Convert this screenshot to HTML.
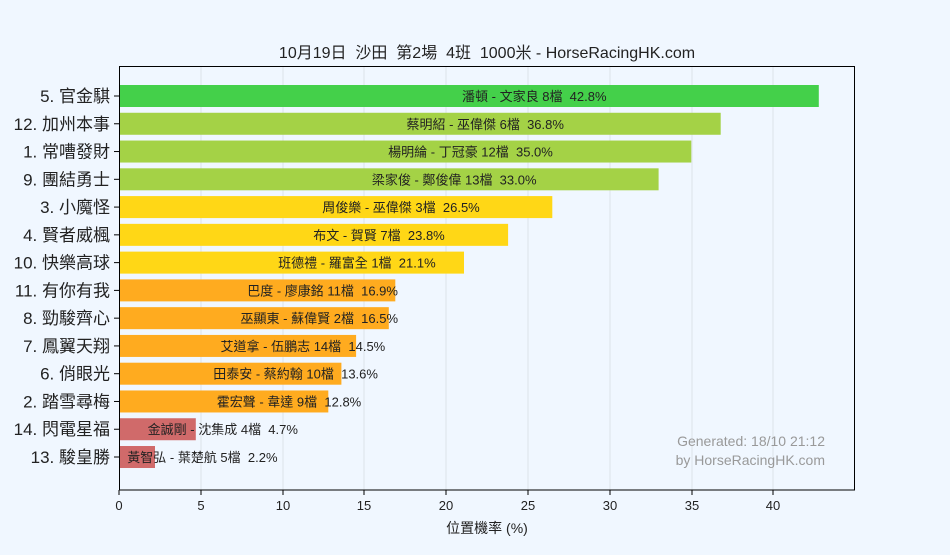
<!DOCTYPE html><html><head><meta charset="utf-8"><style>body{margin:0;background:#f0f7ff}text{white-space:pre}</style></head><body>
<svg width="950" height="550" xmlns="http://www.w3.org/2000/svg" font-family="Liberation Sans, Noto Sans CJK TC, sans-serif">
<rect width="950" height="550" fill="#f0f7ff"/>
<text x="487" y="58" font-size="16" text-anchor="middle" fill="#222">10月19日  沙田  第2場  4班  1000米 - HorseRacingHK.com</text>
<g stroke="#dde3ea" stroke-width="1">
<line x1="201" y1="66" x2="201" y2="490"/><line x1="283" y1="66" x2="283" y2="490"/><line x1="364" y1="66" x2="364" y2="490"/><line x1="446" y1="66" x2="446" y2="490"/><line x1="528" y1="66" x2="528" y2="490"/><line x1="610" y1="66" x2="610" y2="490"/><line x1="692" y1="66" x2="692" y2="490"/><line x1="773" y1="66" x2="773" y2="490"/>
</g>
<g>
<rect x="119" y="85" width="699.8" height="22" fill="#44d04a"/>
<rect x="119" y="112.77" width="601.7" height="22" fill="#a4d246"/>
<rect x="119" y="140.54" width="572.3" height="22" fill="#a4d246"/>
<rect x="119" y="168.31" width="539.6" height="22" fill="#a4d246"/>
<rect x="119" y="196.08" width="433.3" height="22" fill="#ffd716"/>
<rect x="119" y="223.85" width="389.1" height="22" fill="#ffd716"/>
<rect x="119" y="251.62" width="345.0" height="22" fill="#ffd716"/>
<rect x="119" y="279.39" width="276.3" height="22" fill="#ffab1f"/>
<rect x="119" y="307.16" width="269.8" height="22" fill="#ffab1f"/>
<rect x="119" y="334.93" width="237.1" height="22" fill="#ffab1f"/>
<rect x="119" y="362.7" width="222.4" height="22" fill="#ffab1f"/>
<rect x="119" y="390.47" width="209.3" height="22" fill="#ffab1f"/>
<rect x="119" y="418.24" width="76.8" height="22" fill="#d06a6a"/>
<rect x="119" y="446.01" width="36.0" height="22" fill="#d06a6a"/>
</g>
<g font-size="13" fill="#222" text-anchor="middle">
<text x="534.3" y="101">潘頓 - 文家良 8檔  42.8%</text>
<text x="485.2" y="128.77">蔡明紹 - 巫偉傑 6檔  36.8%</text>
<text x="470.5" y="156.54">楊明綸 - 丁冠豪 12檔  35.0%</text>
<text x="454.2" y="184.31">梁家俊 - 鄭俊偉 13檔  33.0%</text>
<text x="401.0" y="212.08">周俊樂 - 巫偉傑 3檔  26.5%</text>
<text x="379.0" y="239.85">布文 - 賀賢 7檔  23.8%</text>
<text x="356.9" y="267.62">班德禮 - 羅富全 1檔  21.1%</text>
<text x="322.6" y="295.39">巴度 - 廖康銘 11檔  16.9%</text>
<text x="319.3" y="323.16">巫顯東 - 蘇偉賢 2檔  16.5%</text>
<text x="302.9" y="350.93">艾道拿 - 伍鵬志 14檔  14.5%</text>
<text x="295.6" y="378.7">田泰安 - 蔡約翰 10檔  13.6%</text>
<text x="289.0" y="406.47">霍宏聲 - 韋達 9檔  12.8%</text>
<text x="222.8" y="434.24">金誠剛 - 沈集成 4檔  4.7%</text>
<text x="202.4" y="462.01">黃智弘 - 葉楚航 5檔  2.2%</text>
</g>
<g font-size="17" fill="#222" text-anchor="end">
<text x="110" y="102">5. 官金騏</text>
<text x="110" y="129.77">12. 加州本事</text>
<text x="110" y="157.54">1. 常嘈發財</text>
<text x="110" y="185.31">9. 團結勇士</text>
<text x="110" y="213.08">3. 小魔怪</text>
<text x="110" y="240.85">4. 賢者威楓</text>
<text x="110" y="268.62">10. 快樂高球</text>
<text x="110" y="296.39">11. 有你有我</text>
<text x="110" y="324.16">8. 勁駿齊心</text>
<text x="110" y="351.93">7. 鳳翼天翔</text>
<text x="110" y="379.7">6. 俏眼光</text>
<text x="110" y="407.47">2. 踏雪尋梅</text>
<text x="110" y="435.24">14. 閃電星福</text>
<text x="110" y="463.01">13. 駿皇勝</text>
</g>
<g stroke="#000">
<line x1="114" x2="119" y1="96" y2="96"/><line x1="114" x2="119" y1="123.77" y2="123.77"/><line x1="114" x2="119" y1="151.54" y2="151.54"/><line x1="114" x2="119" y1="179.31" y2="179.31"/><line x1="114" x2="119" y1="207.08" y2="207.08"/><line x1="114" x2="119" y1="234.85" y2="234.85"/><line x1="114" x2="119" y1="262.62" y2="262.62"/><line x1="114" x2="119" y1="290.39" y2="290.39"/><line x1="114" x2="119" y1="318.16" y2="318.16"/><line x1="114" x2="119" y1="345.93" y2="345.93"/><line x1="114" x2="119" y1="373.7" y2="373.7"/><line x1="114" x2="119" y1="401.47" y2="401.47"/><line x1="114" x2="119" y1="429.24" y2="429.24"/><line x1="114" x2="119" y1="457.01" y2="457.01"/>
</g>
<rect x="119.5" y="66.5" width="735" height="423.5" fill="none" stroke="#000"/>
<g font-size="13" text-anchor="middle" fill="#222">
<text x="119" y="510">0</text><text x="201" y="510">5</text><text x="283" y="510">10</text><text x="364" y="510">15</text><text x="446" y="510">20</text><text x="528" y="510">25</text><text x="610" y="510">30</text><text x="692" y="510">35</text><text x="773" y="510">40</text>
<text x="487" y="533" font-size="14">位置機率 (%)</text>
</g>
<g stroke="#000"><line x1="119" y1="490" x2="119" y2="495"/><line x1="201" y1="490" x2="201" y2="495"/><line x1="283" y1="490" x2="283" y2="495"/><line x1="364" y1="490" x2="364" y2="495"/><line x1="446" y1="490" x2="446" y2="495"/><line x1="528" y1="490" x2="528" y2="495"/><line x1="610" y1="490" x2="610" y2="495"/><line x1="692" y1="490" x2="692" y2="495"/><line x1="773" y1="490" x2="773" y2="495"/></g>
<text x="825" y="446" font-size="14" fill="#999" text-anchor="end">Generated: 18/10 21:12</text>
<text x="825" y="465" font-size="14" fill="#999" text-anchor="end">by HorseRacingHK.com</text>
</svg></body></html>
